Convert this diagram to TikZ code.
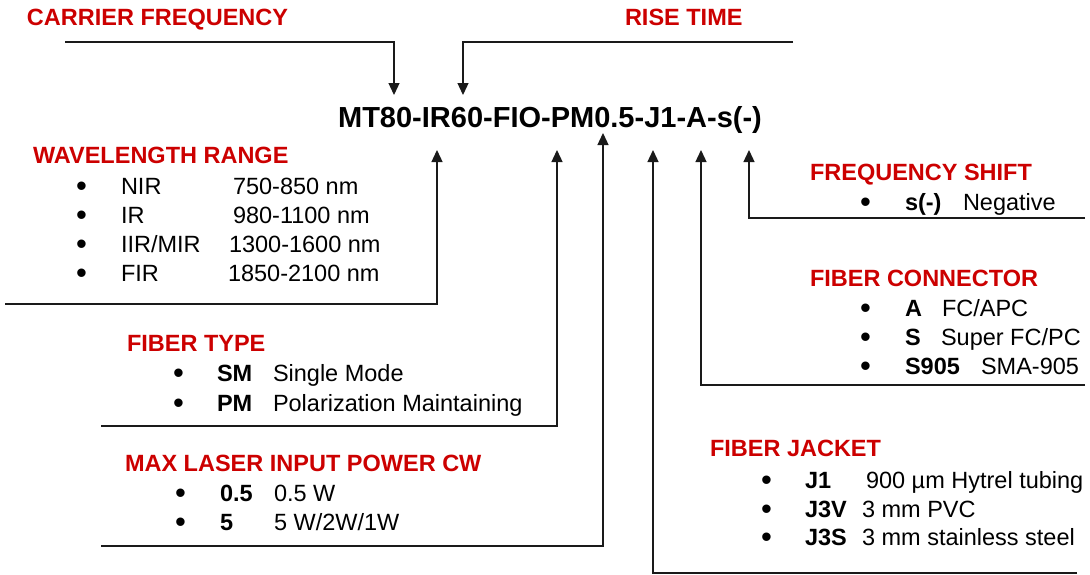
\documentclass[tikz,border=0pt]{standalone}
\usepackage{fontspec}
\setmainfont{Liberation Sans}
\usetikzlibrary{arrows.meta}
\definecolor{headred}{HTML}{CC0000}
\definecolor{linegray}{HTML}{1A1A1A}
\begin{document}
\begin{tikzpicture}[x=1pt,y=-1pt,
  every node/.style={inner sep=0pt, outer sep=0pt, anchor=base west},
  head/.style={text=headred, font=\fontsize{23.5}{28}\selectfont\bfseries},
  body/.style={font=\fontsize{23.5}{28}\selectfont},
  bul/.style={font=\fontsize{31}{34}\selectfont, yshift=-2.5pt},
  key/.style={font=\fontsize{23.5}{28}\selectfont\bfseries},
  code/.style={font=\fontsize{29}{34}\selectfont\bfseries, anchor=base},
  conn/.style={draw=linegray, line width=1.3pt},
  tip/.style={conn, -{Triangle[length=12pt,width=11pt]}},
]
\useasboundingbox (0,0) rectangle (1090,574);

% model code
\node[code] (code) at (550,127) {MT80-IR60-FIO-PM0.5-J1-A-s(-)};

% top headings
\node[head] (cfh) at (27,25) {CARRIER FREQUENCY};
\node[head] (rth) at (625,25) {RISE TIME};

% wavelength range
\node[head] (wlh) at (33,163) {WAVELENGTH RANGE};
\node[bul] (wb1) at (76,194) {•}; \node[body] (wk1) at (121,194) {NIR};     \node[body] (wv1) at (233,194) {750-850 nm};
\node[bul] (wb2) at (76,223) {•}; \node[body] (wk2) at (121,223) {IR};      \node[body] (wv2) at (233,223) {980-1100 nm};
\node[bul] (wb3) at (76,252) {•}; \node[body] (wk3) at (121,252) {IIR/MIR}; \node[body] (wv3) at (229,252) {1300-1600 nm};
\node[bul] (wb4) at (76,281) {•}; \node[body] (wk4) at (121,281) {FIR};     \node[body] (wv4) at (228,281) {1850-2100 nm};

% fiber type
\node[head] (fth) at (127,351) {FIBER TYPE};
\node[bul] (fb1) at (173,381) {•}; \node[key] (fk1) at (217,381) {SM}; \node[body] (fv1) at (273,381) {Single Mode};
\node[bul] (fb2) at (173,411) {•}; \node[key] (fk2) at (217,411) {PM}; \node[body] (fv2) at (273,411) {Polarization Maintaining};

% max laser input power
\node[head] (mph) at (125,471) {MAX LASER INPUT POWER CW};
\node[bul] (pb1) at (175,501) {•}; \node[key] (pk1) at (220,501) {0.5}; \node[body] (pv1) at (274,501) {0.5 W};
\node[bul] (pb2) at (175,530) {•}; \node[key] (pk2) at (220,530) {5};   \node[body] (pv2) at (274,530) {5 W/2W/1W};

% fiber jacket
\node[head] (fjh) at (710,456) {FIBER JACKET};
\node[bul] (jb1) at (761,488) {•}; \node[key] (jk1) at (805,488) {J1};  \node[body] (jv1) at (866,488) {900 µm Hytrel tubing};
\node[bul] (jb2) at (761,517) {•}; \node[key] (jk2) at (805,517) {J3V}; \node[body] (jv2) at (862,517) {3 mm PVC};
\node[bul] (jb3) at (761,545) {•}; \node[key] (jk3) at (805,545) {J3S}; \node[body] (jv3) at (862,545) {3 mm stainless steel};

% frequency shift
\node[head] (fsh) at (810,180) {FREQUENCY SHIFT};
\node[bul] (sb1) at (860,210) {•}; \node[key] (sk1) at (905,210) {s(-)}; \node[body] (sv1) at (963,210) {Negative};

% fiber connector
\node[head] (fch) at (810,286) {FIBER CONNECTOR};
\node[bul] (cb1) at (860,316) {•}; \node[key] (ck1) at (905,316) {A};    \node[body] (cv1) at (942,316) {FC/APC};
\node[bul] (cb2) at (860,345) {•}; \node[key] (ck2) at (905,345) {S};    \node[body] (cv2) at (941,345) {Super FC/PC};
\node[bul] (cb3) at (860,374) {•}; \node[key] (ck3) at (905,374) {S905}; \node[body] (cv3) at (981,374) {SMA-905};

% connector coordinates
\coordinate (cfA) at (65,42);   \coordinate (cfB) at (394,42);  \coordinate (cfT) at (394,95);
\coordinate (rtA) at (793,42);  \coordinate (rtB) at (463,42);  \coordinate (rtT) at (463,95);
\coordinate (wlA) at (5,304);   \coordinate (wlB) at (437,304); \coordinate (wlT) at (437,150);
\coordinate (ftA) at (101,426); \coordinate (ftB) at (557,426); \coordinate (ftT) at (557,150);
\coordinate (mpA) at (101,546); \coordinate (mpB) at (603,546); \coordinate (mpT) at (603,133);
\coordinate (fjA) at (1077,573);\coordinate (fjB) at (653,573); \coordinate (fjT) at (653,150);
\coordinate (fcA) at (1085,385);\coordinate (fcB) at (701,385); \coordinate (fcT) at (701,150);
\coordinate (fsA) at (1085,218);\coordinate (fsB) at (749,218); \coordinate (fsT) at (749,150);

\draw[tip] (cfA) -- (cfB) -- (cfT);
\draw[tip] (rtA) -- (rtB) -- (rtT);
\draw[tip] (wlA) -- (wlB) -- (wlT);
\draw[tip] (ftA) -- (ftB) -- (ftT);
\draw[tip] (mpA) -- (mpB) -- (mpT);
\draw[tip] (fjA) -- (fjB) -- (fjT);
\draw[tip] (fcA) -- (fcB) -- (fcT);
\draw[tip] (fsA) -- (fsB) -- (fsT);
\end{tikzpicture}
\end{document}
